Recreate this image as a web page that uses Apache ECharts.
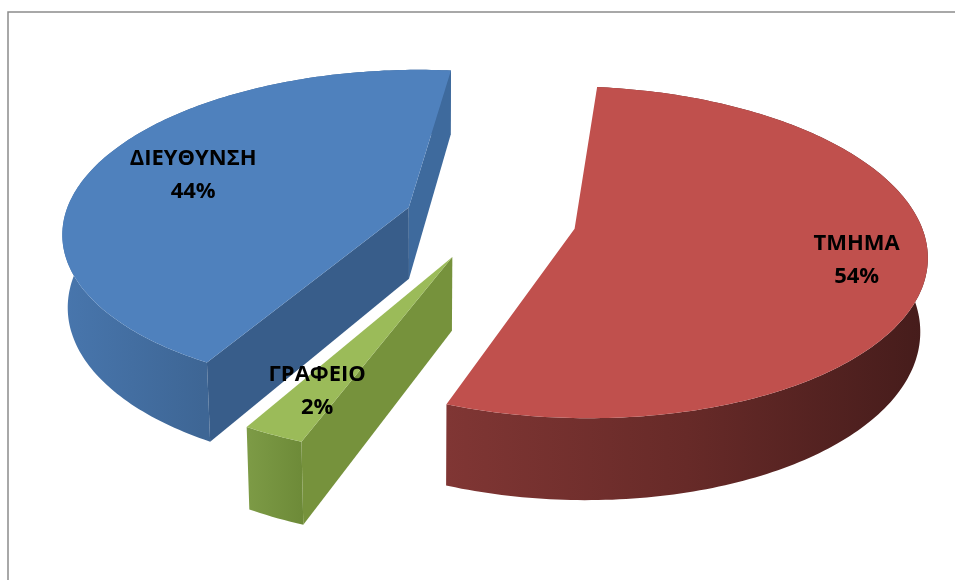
<!DOCTYPE html>
<html><head><meta charset="utf-8">
<style>html,body{margin:0;padding:0;background:#fff}#c{width:955px;height:580px}</style>
<script src="https://cdn.jsdelivr.net/npm/echarts@6/dist/echarts.min.js"></script>
</head><body><div id="c"></div>
<script>
const categories = ['ΤΜΗΜΑ', 'ΓΡΑΦΕΙΟ', 'ΔΙΕΥΘΥΝΣΗ'];
const shares = [54, 2.45, 43.55];
const topColors = ['#C0504D', '#9BBB59', '#4F81BD'];
const wallStops = [
  [[0,'#803634'],[0.5,'#672a28'],[1,'#451c1b']],
  [[0,'#7d9b46'],[1,'#6d8a38']],
  [[0,'#4876ad'],[0.36,'#3e6695'],[1,'#3e6695']]
];
const startWall = ['#6b2b29', '#76923C', '#385D8A'];
const endWall = ['#6b2b29', '#76923C', '#3E6A9D'];
const labelRadius = [0.805, 0.78, 0.69];

const total = shares.reduce((a, b) => a + b, 0);
const START = 6.2, EXPLODE = 0.25, CX = 490, CY = 219.5, A = 345, B = 160, P = 0.14;
const rad = d => d * Math.PI / 180;
const dir = d => [Math.sin(rad(d)), -Math.cos(rad(d))];

function angles(i) {
  let s = START;
  for (let k = 0; k < i; k++) s += shares[k] / total * 360;
  return [s, s + shares[i] / total * 360];
}
function project(i, deg, r) {
  const [a0, a1] = angles(i);
  const m = dir((a0 + a1) / 2), d = dir(deg);
  const x = EXPLODE * m[0] + r * d[0], y = EXPLODE * m[1] + r * d[1];
  const s = 1 / (1 - P * y);
  return [CX + A * x * s, CY + B * y * s];
}
const lower = p => [CX + (p[0] - CX) * 0.985 - 1, CY + (p[1] - CY) * 1.05 + 72];
function area(pts) {
  let t = 0;
  pts.forEach((p, k) => { const q = pts[(k + 1) % pts.length]; t += p[0] * q[1] - q[0] * p[1]; });
  return t / 2;
}
function poly(points, fill, z2) {
  return { type: 'polygon', z2, shape: { points }, style: { fill, stroke: null } };
}
function renderItem(params, api) {
  const i = params.dataIndex;
  const [a0, a1] = angles(i);
  const apex = project(i, a0, 0), arc = [];
  for (let d = a0; d < a1; d += 1) arc.push(project(i, d, 1));
  arc.push(project(i, a1, 1));
  const children = [];
  children.push(poly(arc.concat(arc.map(lower).reverse()), {
    type: 'linear', x: 0, y: 0, x2: 1, y2: 0,
    colorStops: wallStops[i].map(s => ({ offset: s[0], color: s[1] }))
  }, 1));
  const q0 = [apex, arc[0], lower(arc[0]), lower(apex)];
  const q1 = [apex, arc[arc.length - 1], lower(arc[arc.length - 1]), lower(apex)];
  if (area(q0) < 0) children.push(poly(q0, startWall[i], 2));
  if (area(q1) > 0) children.push(poly(q1, endWall[i], 2));
  children.push(poly([apex].concat(arc), topColors[i], 3));
  const lp = project(i, (a0 + a1) / 2, labelRadius[i]);
  children.push({
    type: 'text', z2: 100, x: lp[0], y: lp[1],
    style: {
      text: categories[i] + '\n' + Math.round(api.value(0) / total * 100) + '%',
      fill: '#000', font: 'bold 22px "Open Sans"', lineHeight: 33,
      align: 'center', verticalAlign: 'middle'
    }
  });
  return { type: 'group', children };
}
const chart = echarts.init(document.getElementById('c'), null, { renderer: 'canvas' });
chart.setOption({
  animation: false,
  backgroundColor: '#fff',
  graphic: [{ type: 'rect', silent: true, shape: { x: 8, y: 12, width: 1000, height: 700 }, style: { fill: 'none', stroke: '#8c8c8c', lineWidth: 1.5 } }],
  series: [{
    type: 'custom', coordinateSystem: 'none', silent: true, renderItem,
    data: shares.map((v, i) => ({ name: categories[i], value: [v] }))
  }]
});
</script></body></html>
